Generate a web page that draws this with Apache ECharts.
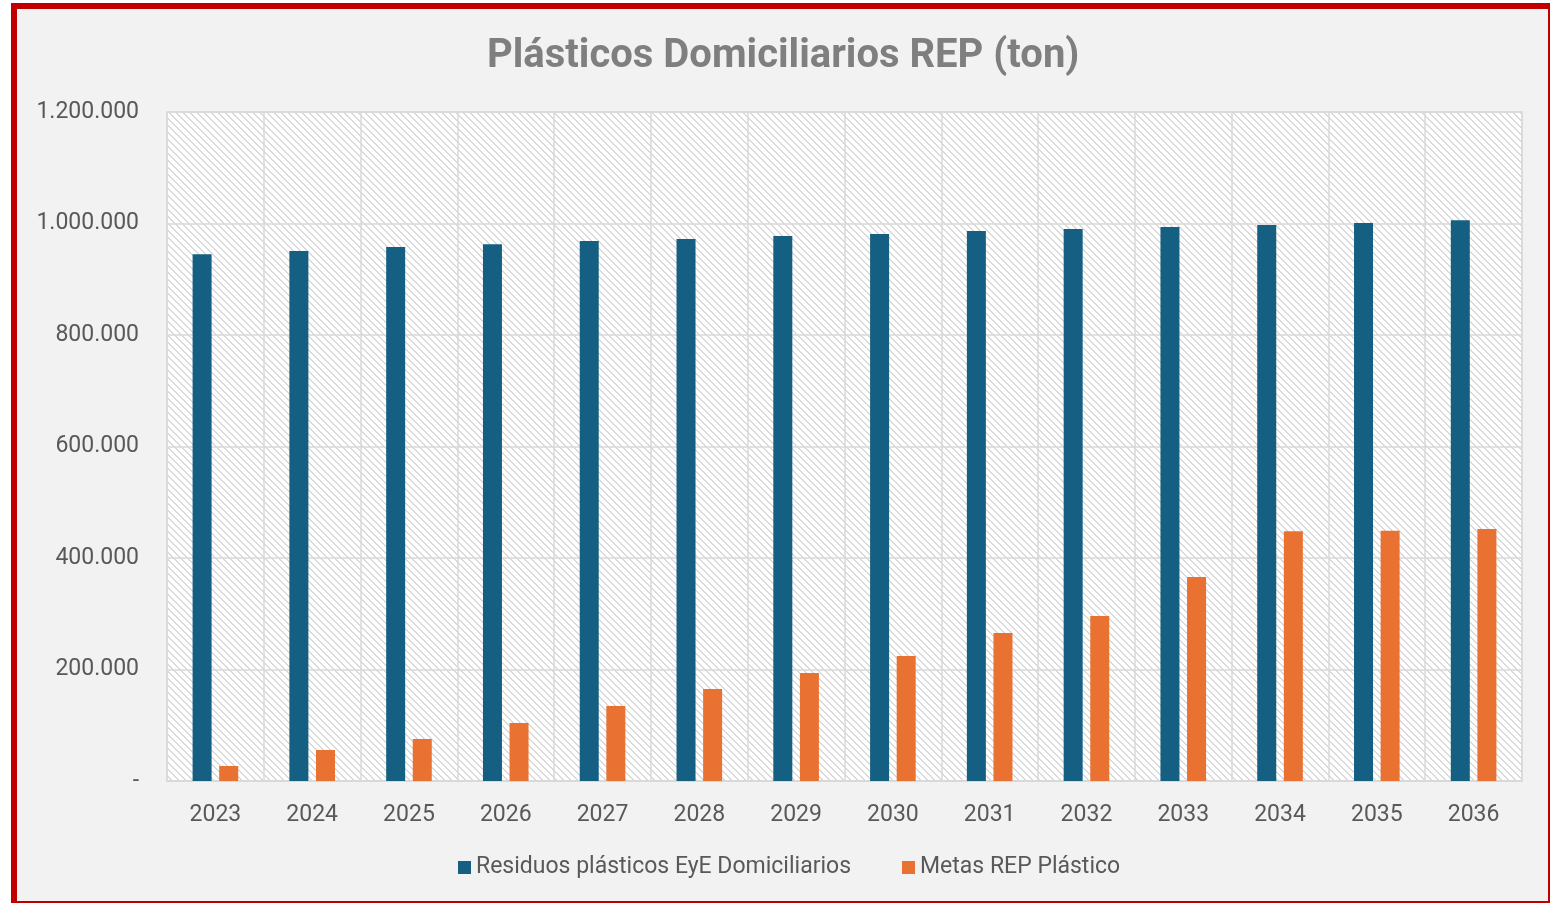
<!DOCTYPE html>
<html>
<head>
<meta charset="utf-8">
<script src="https://cdn.jsdelivr.net/npm/echarts@6/dist/echarts.min.js"></script>
<style>
  html, body { margin: 0; padding: 0; background: #ffffff; width: 1550px; height: 903px; overflow: hidden; }
  #frame { position: absolute; left: 11px; top: 3px; width: 1543px; height: 904px; box-sizing: border-box; border: 6px solid #c00000; background: #f2f2f2; }
  #chart { position: absolute; left: 0; top: 0; width: 1550px; height: 903px; }
</style>
</head>
<body>
<div id="frame"></div>
<div id="chart"></div>
<script>
const years = ['2023','2024','2025','2026','2027','2028','2029','2030','2031','2032','2033','2034','2035','2036'];
const residuos = [945000, 950700, 957800, 963000, 968600, 972000, 977600, 981000, 986500, 990000, 993700, 997300, 1001000, 1006000];
const metas = [26900, 55600, 75300, 104000, 134500, 165000, 193700, 224200, 265500, 296000, 366000, 447900, 449000, 452000];
const seriesNames = ['Residuos plásticos EyE Domiciliarios', 'Metas REP Plástico'];
const chartTitle = 'Plásticos Domiciliarios REP (ton)';

// hatch pattern for plot area
const pc = document.createElement('canvas');
pc.width = 7; pc.height = 7;
const pctx = pc.getContext('2d');
pctx.fillStyle = '#ffffff';
pctx.fillRect(0, 0, 7, 7);
pctx.fillStyle = '#dadada';
for (let y = 0; y < 7; y++) {
  for (let x = 0; x < 7; x++) {
    const d = ((x - y) % 7 + 7) % 7;
    if (d === 0 || d === 1) pctx.fillRect(x, y, 1, 1);
  }
}

function fmt(v) {
  if (v === 0) return '-';
  return String(v).replace(/\B(?=(\d{3})+(?!\d))/g, '.');
}

const chart = echarts.init(document.getElementById('chart'), null, { renderer: 'canvas' });
chart.setOption({
  backgroundColor: 'transparent',
  animation: false,
  title: {
    text: chartTitle,
    left: 482,
    top: 32,
    textStyle: { fontFamily: 'Roboto', fontWeight: 'bold', fontSize: 40, color: '#7f7f7f' }
  },
  legend: {
    bottom: 19,
    left: 453,
    itemWidth: 13,
    itemHeight: 13,
    itemGap: 51,
    icon: 'rect',
    textStyle: { fontFamily: 'Roboto', fontSize: 23, color: '#595959' },
    data: seriesNames
  },
  grid: {
    left: 167, right: 28, top: 112, bottom: 122,
    show: true,
    backgroundColor: { image: pc, repeat: 'repeat' },
    borderColor: '#d9d9d9',
    borderWidth: 1.5
  },
  xAxis: {
    type: 'category',
    data: years,
    axisLine: { show: true, lineStyle: { color: '#d9d9d9', width: 1.5 } },
    axisTick: { show: false },
    splitLine: { show: true, interval: 0, lineStyle: { color: '#d9d9d9', width: 1.5 } },
    axisLabel: { fontFamily: 'Roboto', fontSize: 23, color: '#595959', margin: 23 }
  },
  yAxis: {
    type: 'value',
    min: 0, max: 1200000, interval: 200000,
    axisLine: { show: false },
    axisTick: { show: false },
    splitLine: { show: true, lineStyle: { color: '#d9d9d9', width: 1.5 } },
    axisLabel: { fontFamily: 'Roboto', fontSize: 23, color: '#595959', margin: 28, formatter: fmt }
  },
  series: [
    { name: seriesNames[0], type: 'bar', data: residuos, barWidth: 19, barGap: '40%', itemStyle: { color: '#156082' } },
    { name: seriesNames[1], type: 'bar', data: metas, barWidth: 19, barGap: '40%', itemStyle: { color: '#E97132' } }
  ]
});
</script>
</body>
</html>
